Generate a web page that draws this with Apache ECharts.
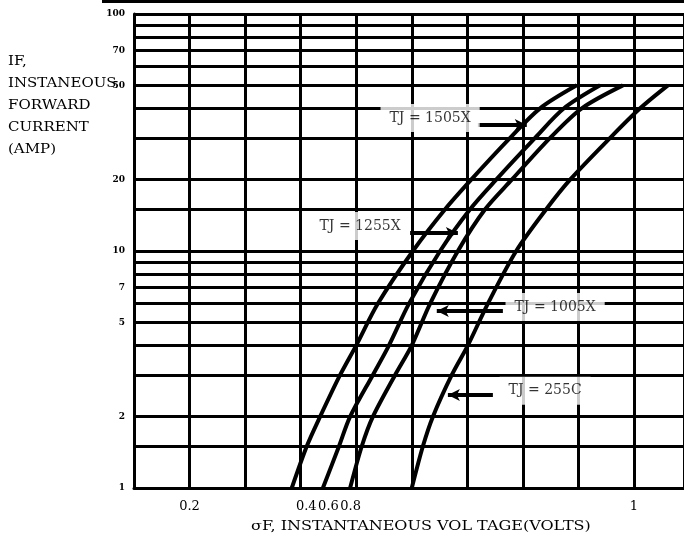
<!DOCTYPE html>
<html><head><meta charset="utf-8">
<script src="https://cdn.jsdelivr.net/npm/echarts@6.0.0/dist/echarts.min.js"></script>
<style>html,body{margin:0;padding:0;background:#fff}#chart{width:684px;height:547px}</style>
</head><body><div id="chart"></div>
<script>
// Forward current (A) at which each curve was read
const currentAmps = [1, 1.5, 2, 3, 4, 6, 10, 15, 20, 30, 40, 50];
// Forward voltage (V) for each junction temperature
const voltsTj150 = [0.384, 0.411, 0.435, 0.471, 0.500, 0.539, 0.602, 0.660, 0.707, 0.777, 0.831, 0.897];
const voltsTj125 = [0.440, 0.469, 0.489, 0.530, 0.559, 0.595, 0.651, 0.705, 0.752, 0.822, 0.874, 0.939];
const voltsTj100 = [0.489, 0.510, 0.530, 0.570, 0.600, 0.633, 0.683, 0.732, 0.780, 0.849, 0.906, 0.980];
const voltsTj25  = [0.600, 0.620, 0.638, 0.672, 0.701, 0.737, 0.788, 0.842, 0.885, 0.957, 1.011, 1.061];
const curveNames = ['TJ = 1505X', 'TJ = 1255X', 'TJ = 1005X', 'TJ = 255C'];
// Horizontal grid lines (current values)
const gridCurrents = [1.5, 2, 3, 4, 5, 6, 7, 8, 9, 10, 15, 20, 30, 40, 50, 60, 70, 80, 90, 100];
// Tick labels
const yTickValues = [1, 2, 5, 7, 10, 20, 50, 70, 100];
const yTickLabels = ['1', '2', '5', '7', '10', '20', '50', '70', '100'];
const xTickValues = [0.2, 0.41, 0.45, 0.49, 1];
const xTickLabels = ['0.2', '0.4', '0.6', '0.8', '1'];

const chart = echarts.init(document.getElementById('chart'));
const pairs = xs => xs.map((x, i) => [x, currentAmps[i]]);

const curveSeries = [voltsTj150, voltsTj125, voltsTj100, voltsTj25].map((xs, i) => ({
  type: 'line', name: curveNames[i], data: pairs(xs), smooth: 0.3,
  symbol: 'none', showSymbol: false, silent: true, z: 3,
  lineStyle: { color: '#000', width: 4 }
}));

const annotations = [
  { text: curveNames[0], at: [0.633, 36.4], from: [0.719, 34.0], to: [0.807, 34.0] },
  { text: curveNames[1], at: [0.507, 12.75], from: [0.597, 11.9], to: [0.683, 11.9] },
  { text: curveNames[2], at: [0.858, 5.8], from: [0.764, 5.58], to: [0.645, 5.58] },
  { text: curveNames[3], at: [0.840, 2.57], from: [0.746, 2.47], to: [0.665, 2.47] }
];

const option = {
  animation: false,
  backgroundColor: '#fff',
  grid: { left: 134, right: 0, top: 14, bottom: 59, containLabel: false },
  xAxis: {
    type: 'value', min: 0.1, max: 1.09, interval: 0.1,
    axisLine: { show: true, onZero: false, lineStyle: { color: '#000', width: 3 } },
    axisTick: { show: false },
    splitLine: { show: true, lineStyle: { color: '#000', width: 3 } },
    axisLabel: {
      customValues: xTickValues,
      formatter: v => { const i = xTickValues.indexOf(v); return i >= 0 ? xTickLabels[i] : ''; },
      color: '#000', fontFamily: 'DejaVu Serif', fontSize: 13, margin: 12
    }
  },
  yAxis: {
    type: 'log', logBase: 10, min: 1, max: 100,
    axisLine: { show: true, lineStyle: { color: '#000', width: 3 } },
    axisTick: { show: false },
    splitLine: { show: false },
    minorSplitLine: { show: false },
    axisLabel: {
      customValues: yTickValues,
      formatter: v => { const i = yTickValues.indexOf(v); return i >= 0 ? yTickLabels[i] : ''; },
      color: '#000', fontFamily: 'DejaVu Serif', fontWeight: 'bold', fontSize: 9,
      margin: 9, padding: [0, 0, 8, 0]
    }
  },
  graphic: [
    { type: 'rect', shape: { x: 102, y: 0, width: 582, height: 3 }, style: { fill: '#000' }, silent: true },
    { type: 'text', x: 8, y: 51, scaleY: 0.8, silent: true,
      style: { text: 'IF,\nINSTANEOUS\nFORWARD\nCURRENT\n(AMP)', fill: '#000',
               font: '15px "DejaVu Serif"', lineHeight: 27.5, verticalAlign: 'top', align: 'left' } },
    { type: 'text', x: 251, y: 527, scaleY: 0.75, silent: true,
      style: { text: 'σF, INSTANTANEOUS VOL TAGE(VOLTS)', fill: '#000',
               font: '16px "DejaVu Serif"', verticalAlign: 'middle', align: 'left' } }
  ],
  series: [
    { type: 'line', data: [], z: 1, silent: true,
      markLine: { silent: true, symbol: 'none', label: { show: false },
        lineStyle: { color: '#000', width: 3, type: 'solid' },
        data: gridCurrents.map(v => ({ yAxis: v })) } },
    ...curveSeries,
    { type: 'scatter', z: 5, silent: true, symbolSize: 1, itemStyle: { color: 'rgba(0,0,0,0)' },
      data: annotations.map(a => ({ value: a.at })),
      label: { show: true, position: 'inside', formatter: p => annotations[p.dataIndex].text,
        color: '#000', fontFamily: 'DejaVu Serif', fontSize: 14, backgroundColor: '#fff', padding: [7, 9] } },
    { type: 'line', data: [], z: 6, silent: true,
      markLine: { silent: true, symbol: ['none', 'arrow'], symbolSize: [9, 12], label: { show: false },
        lineStyle: { color: '#000', width: 4, type: 'solid' },
        data: annotations.map(a => [{ coord: a.from }, { coord: a.to }]) } }
  ]
};
chart.setOption(option);
</script></body></html>
